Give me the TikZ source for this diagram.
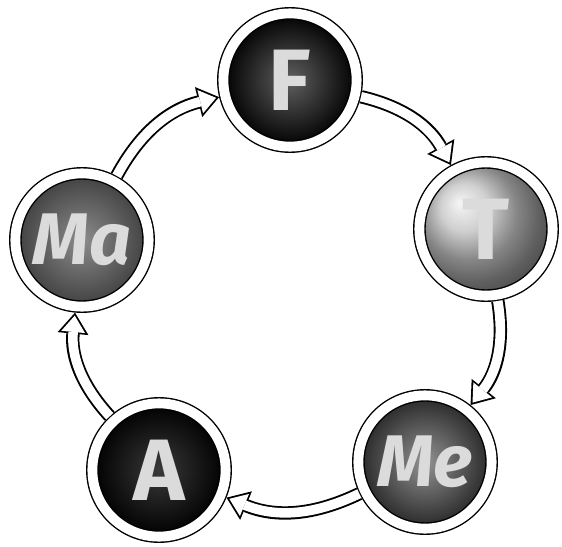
\documentclass[tikz,border=0pt]{standalone}
\usepackage{fontspec}
\setmainfont{Fira Sans}
\usetikzlibrary{arrows.meta}
\tikzset{
  orb/.style={circle,draw=black,line width=1pt,double=white,double distance=7pt,
    minimum size=3.33cm,inner sep=0pt,outer sep=4.5pt,
    font=\fontsize{62}{62}\selectfont\bfseries,text=white!86!black},
  duo/.style={orb,font=\fontsize{52}{52}\selectfont\bfseries\itshape},
  fl/.style={line width=9.5pt,
    -{Triangle[length=15pt,width=22pt,line width=0pt]}},
  flin/.style={white,line width=6.8pt,shorten >=2.2pt,
    -{Triangle[length=11.6pt,width=17pt,line width=0pt]}},
}

\begin{document}
\begin{tikzpicture}[x=0.025cm,y=-0.025cm]
  \useasboundingbox (0,0) rectangle (562,547);
  \node[orb,inner color=gray!75!black,outer color=black] (F) at (290,80) {F};
  \node[orb,ball color=gray!50] (T) at (486,229) {T};
  \node[duo,inner color=gray!85,outer color=black!85] (Me) at (425,462) {Me};
  \node[orb,inner color=gray!45!black,outer color=black] (A) at (159,470) {A};
  \node[duo,inner color=gray!90,outer color=black!75] (Ma) at (82,240) {Ma};
  % cycle arrows
  \foreach \a/\b in {F/T,T/Me,Me/A,A/Ma,Ma/F}{
    \draw[fl] (\a) to[bend left=24] (\b);
    \draw[flin] (\a) to[bend left=24] (\b);}
\end{tikzpicture}
\end{document}
